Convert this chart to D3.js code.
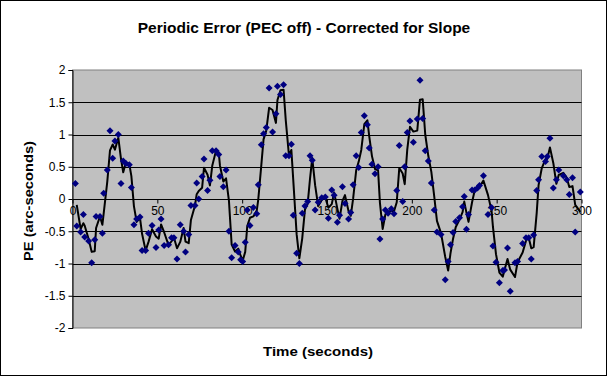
<!DOCTYPE html>
<html>
<head>
<meta charset="utf-8">
<script src="https://cdn.jsdelivr.net/npm/d3@7"></script>
<style>
  body { margin: 0; background: #fff; }
  svg { display: block; font-family: "Liberation Sans", Arial, sans-serif; }
</style>
</head>
<body>
<script>
// sample times (s) and periodic error (arc-seconds)
var times = [1.7, 2.5, 4.8, 6.4, 7.2, 9.5, 11.3, 13.1, 13.9, 16.2,
  17.6, 18.4, 20.5, 22.1, 23.7, 25.0, 27.0, 28.6, 29.9, 31.5,
  33.5, 34.7, 36.2, 37.8, 39.8, 41.0, 43.1, 44.8, 46.9, 49.2,
  50.8, 52.2, 54.0, 56.6, 58.4, 59.8, 61.6, 63.5, 65.5, 66.6,
  68.5, 69.8, 72.2, 73.2, 74.4, 76.4, 77.5, 79.6, 81.0, 82.4,
  84.6, 86.2, 86.9, 88.9, 90.5, 92.2, 93.8, 95.8, 97.7, 99.1,
  100.3, 101.8, 103.0, 104.6, 106.6, 108.6, 109.5, 111.3, 112.6, 114.2,
  115.9, 117.9, 119.9, 120.8, 122.6, 124.4, 125.7, 127.6, 129.0, 130.1,
  132.1, 133.7, 135.4, 137.0, 138.6, 140.0, 141.3, 143.0, 144.8, 146.9,
  149.0, 150.8, 152.8, 154.2, 156.1, 157.4, 159.1, 160.6, 162.7, 164.0,
  165.4, 167.2, 168.7, 170.2, 172.0, 173.8, 174.9, 176.5, 178.3, 180.1,
  181.2, 182.8, 184.4, 186.0, 187.9, 189.5, 191.1, 192.6, 194.6, 195.8,
  197.3, 198.9, 200.9, 203.2, 204.8, 206.4, 207.9, 209.7, 211.5, 213.2,
  214.8, 217.2, 219.7, 221.4, 222.8, 224.3, 225.9, 228.1, 229.9, 230.9, 232.2,
  233.4, 235.5, 237.1, 238.7, 239.9, 242.2, 244.9, 247.0, 247.8, 249.6,
  251.6, 253.6, 254.6, 256.4, 258.0, 260.8, 262.3, 265.3, 267.3, 268.9,
  270.4, 271.8, 273.6, 274.7, 276.6, 278.8, 279.8, 281.4, 283.4, 285.2,
  286.6, 289.3, 291.3, 292.8, 294.7, 296.3, 299.3];

var peValues = [0.24, -0.42, -0.51, -0.24, -0.59, -0.65, -0.99, -0.63, -0.27, -0.27,
  -0.53, 0.09, 0.45, 1.06, 0.63, 0.9, 1.0, 0.24, 0.59, 0.55,
  0.53, 0.18, -0.4, -0.31, -0.28, -0.8, -0.8, -0.53, -0.41, -0.75,
  -0.48, -0.31, -0.72, -0.71, -0.6, -0.6, -0.93, -0.4, -0.5, -0.82,
  -0.55, -0.1, -0.1, 0.25, 0.0, 0.35, 0.62, 0.13, 0.29, 0.75,
  0.75, 0.69, 0.35, 0.19, 0.45, -0.5, -0.91, -0.72, -0.82, -0.94,
  -0.97, -0.67, -0.17, -0.41, -0.13, -0.23, 0.22, 0.84, 1.01, 1.11,
  1.72, 1.04, 1.32, 1.75, 1.62, 1.77, 0.67, 0.67, 0.85, -0.25,
  -0.84, -1.0, -0.22, -0.11, -0.04, 0.67, 0.6, -0.17, -0.05, 0.02,
  0.03, -0.3, 0.14, 0.06, -0.36, -0.25, 0.19, -0.07, -0.31, -0.21,
  0.22, 0.67, 0.49, 1.03, 1.29, 1.15, 0.79, 0.54, 0.39, 0.5,
  -0.62, -0.31, -0.17, -0.22, -0.15, -0.23, 0.13, 0.83, -0.04, 0.5,
  1.03, 1.21, 0.88, 1.24, 1.84, 1.25, 0.75, 0.59, 0.25, -0.17,
  -0.51, -0.55, -1.25, -0.97, -0.71, -0.52, -0.35, -0.29, -0.12, 0.04, -0.47,
  -0.24, 0.14, 0.14, 0.17, 0.21, 0.36, -0.24, -0.13, -0.73, -0.98,
  -1.3, -1.11, -1.1, -0.76, -1.43, -0.99, -0.97, -0.69, -0.6, -0.6,
  -0.93, -0.56, 0.13, 0.3, 0.66, 0.58, 0.66, 0.94, 0.17, 0.3,
  0.45, 0.36, 0.3, 0.07, 0.33, -0.51, 0.11];

var xTicks = [0, 50, 100, 150, 200, 250, 300];
var yTicks = [2, 1.5, 1, 0.5, 0, -0.5, -1, -1.5, -2];

var W = 607, H = 376;
var plot = {left: 72.5, right: 581.5, top: 70, bottom: 328};

var svg = d3.select("body").append("svg")
    .attr("width", W)
    .attr("height", H);

svg.append("rect")
    .attr("x", 0.5).attr("y", 0.5)
    .attr("width", W - 1).attr("height", H - 1)
    .attr("fill", "#fff")
    .attr("stroke", "#000");

var x = d3.scaleLinear().domain([0, 300]).range([plot.left, plot.right]);
var y = d3.scaleLinear().domain([-2, 2]).range([plot.bottom, plot.top]);

svg.append("rect")
    .attr("x", plot.left).attr("y", plot.top)
    .attr("width", plot.right - plot.left)
    .attr("height", plot.bottom - plot.top)
    .attr("fill", "#c0c0c0")
    .attr("stroke", "#808080");

// gridlines
svg.append("g")
  .selectAll("line")
  .data(yTicks.filter(function(d) { return d > -2 && d < 2; }))
  .enter().append("line")
    .attr("x1", plot.left).attr("x2", plot.right)
    .attr("y1", function(d) { return Math.round(y(d)) + 0.5; })
    .attr("y2", function(d) { return Math.round(y(d)) + 0.5; })
    .attr("stroke", "#000");

// y axis
var yAxis = d3.axisLeft(y).tickValues(yTicks).tickSize(4).tickPadding(3)
    .tickFormat(function(d) { return String(d); });
var yg = svg.append("g")
    .attr("transform", "translate(" + plot.left + ",0)")
    .call(yAxis);
yg.select(".domain").attr("stroke", "#000");
yg.selectAll("text").attr("font-size", 12).attr("fill", "#000")
    .attr("font-family", "Liberation Sans, Arial, sans-serif");

// x axis crossing at zero
var xAxis = d3.axisBottom(x).tickValues(xTicks).tickSize(4).tickPadding(3)
    .tickFormat(d3.format("d"));
var xg = svg.append("g")
    .attr("transform", "translate(0," + (Math.round(y(0)) + 0.5) + ")")
    .call(xAxis);
xg.select(".domain").remove();
xg.selectAll("text").attr("font-size", 12).attr("fill", "#000")
    .attr("font-family", "Liberation Sans, Arial, sans-serif");

// 2-period moving average trendline (as the spreadsheet draws it)
var avg = [];
for (var i = 1; i < peValues.length; i++) {
  avg.push([times[i], (peValues[i - 1] + peValues[i]) / 2]);
}

var line = d3.line()
    .x(function(d) { return x(d[0]); })
    .y(function(d) { return y(d[1]); });

svg.append("path")
    .datum(avg)
    .attr("d", line)
    .attr("fill", "none")
    .attr("stroke", "#000")
    .attr("stroke-width", 2)
    .attr("stroke-linejoin", "round");

// data markers
var diamond = "M0,-3.5L3.5,0L0,3.5L-3.5,0Z";
svg.append("g")
  .selectAll("path")
  .data(d3.zip(times, peValues))
  .enter().append("path")
    .attr("d", diamond)
    .attr("transform", function(d) { return "translate(" + x(d[0]) + "," + y(d[1]) + ")"; })
    .attr("fill", "#000080");

// titles
svg.append("text")
    .attr("x", 304).attr("y", 33)
    .attr("text-anchor", "middle")
    .attr("font-size", 15.5).attr("font-weight", "bold")
    .text("Periodic Error (PEC off) - Corrected for Slope");

svg.append("text")
    .attr("x", 318).attr("y", 356)
    .attr("text-anchor", "middle")
    .attr("font-size", 13).attr("font-weight", "bold")
    .attr("textLength", 110).attr("lengthAdjust", "spacingAndGlyphs")
    .text("Time (seconds)");

svg.append("text")
    .attr("transform", "translate(33,201) rotate(-90)")
    .attr("text-anchor", "middle")
    .attr("font-size", 13).attr("font-weight", "bold")
    .attr("textLength", 120).attr("lengthAdjust", "spacingAndGlyphs")
    .text("PE (arc-seconds)");
</script>
</body>
</html>
